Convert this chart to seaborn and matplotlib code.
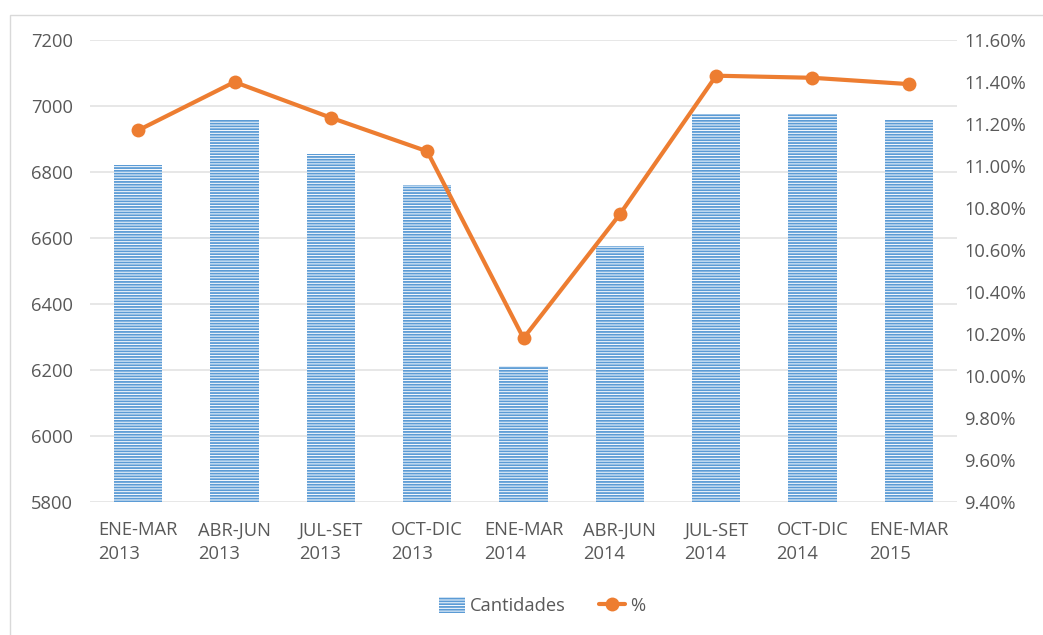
import numpy as np
import matplotlib
matplotlib.use("Agg")
import matplotlib.pyplot as plt
import seaborn as sns
from matplotlib.patches import Patch, Rectangle
from matplotlib.lines import Line2D
from matplotlib.ticker import FuncFormatter

periods = ["ENE-MAR\n2013", "ABR-JUN\n2013", "JUL-SET\n2013", "OCT-DIC\n2013",
           "ENE-MAR\n2014", "ABR-JUN\n2014", "JUL-SET\n2014", "OCT-DIC\n2014",
           "ENE-MAR\n2015"]
cantidades = [6822, 6958, 6855, 6761, 6212, 6576, 6977, 6977, 6957]
porcentaje = [11.17, 11.40, 11.23, 11.07, 10.18, 10.77, 11.43, 11.42, 11.39]

blue = "#5B9BD5"
orange = "#ED7D31"
grey_text = "#595959"
grid_col = "#E3E3E3"
fs = 13.2

sns.set_style("white")
plt.rcParams["font.family"] = ["Open Sans", "DejaVu Sans"]
plt.rcParams["hatch.linewidth"] = 1.3

fig = plt.figure(figsize=(10.43, 6.35), dpi=100)
ax = fig.add_axes([90 / 1043, 1 - 502 / 635, 867 / 1043, 462 / 635])

sns.barplot(x=periods, y=cantidades, ax=ax, color="white", width=0.5,
            saturation=1, linewidth=0)
for p in ax.patches:
    p.set_facecolor("white")
    p.set_edgecolor(blue)
    p.set_hatch("------")
    p.set_linewidth(0)

ax.set_ylim(5800, 7200)
ax.set_yticks(np.arange(5800, 7201, 200))
ax.set_xlim(-0.5, len(periods) - 0.5)
ax.yaxis.grid(True, color=grid_col, linewidth=1.2)
ax.set_axisbelow(True)
for s in ax.spines.values():
    s.set_visible(False)
ax.tick_params(axis="both", length=0, labelsize=fs, colors=grey_text)
ax.tick_params(axis="y", pad=12)
ax.tick_params(axis="x", pad=14)
for lab in ax.get_xticklabels():
    lab.set_multialignment("left")
    lab.set_linespacing(1.4)
ax.set_xlabel("")
ax.set_ylabel("")

ax2 = ax.twinx()
sns.lineplot(x=np.arange(len(periods)), y=porcentaje, ax=ax2, color=orange,
             linewidth=3, marker="o", markersize=10, markeredgewidth=0)
ax2.set_ylim(9.40, 11.60)
ax2.set_yticks(np.arange(9.40, 11.61, 0.20))
ax2.yaxis.set_major_formatter(FuncFormatter(lambda v, _: f"{v:.2f}%"))
ax2.set_xlim(-0.5, len(periods) - 0.5)
for s in ax2.spines.values():
    s.set_visible(False)
ax2.tick_params(axis="y", length=0, labelsize=fs, colors=grey_text, pad=5)
ax2.grid(False)

handles = [
    Patch(facecolor="white", edgecolor=blue, hatch="------", linewidth=0,
          label="Cantidades"),
    Line2D([0], [0], color=orange, linewidth=3, marker="o", markersize=10,
           markeredgewidth=0, label="%"),
]
fig.legend(handles=handles, loc="center", bbox_to_anchor=(0.52, 1 - 606 / 635),
           ncol=2, frameon=False, fontsize=fs, labelcolor=grey_text,
           handlelength=1.4, handleheight=1.0, columnspacing=1.8,
           handletextpad=0.3)

fig.patches.append(Rectangle((10 / 1043, -0.01), 1.02, 1 - 15 / 635 + 0.01,
                             transform=fig.transFigure, fill=False,
                             edgecolor="#D9D9D9", linewidth=1))

fig.savefig("out.png", dpi=100, facecolor="white")
